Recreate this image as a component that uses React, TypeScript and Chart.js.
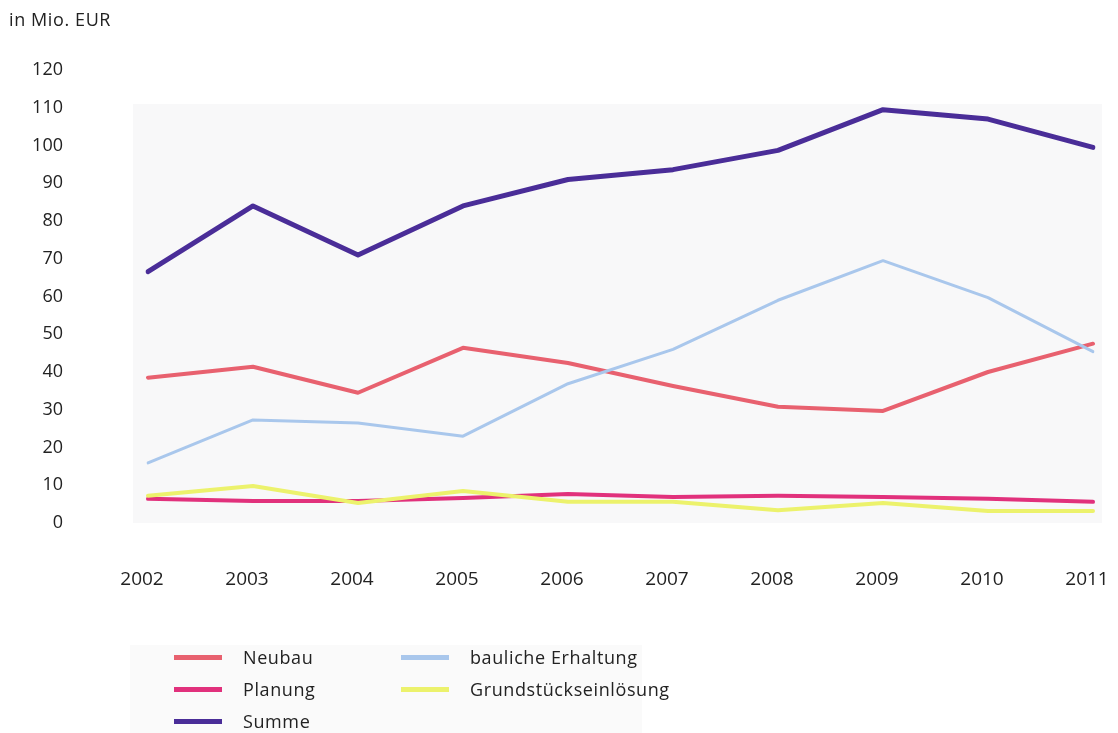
import React, { useEffect, useRef } from "react";
import { Chart, registerables } from "chart.js";

Chart.register(...registerables);

const years = ["2002", "2003", "2004", "2005", "2006", "2007", "2008", "2009", "2010", "2011"];
const neubau = [38.5, 41.4, 34.5, 46.4, 42.4, 36.3, 30.8, 29.7, 40, 47.5];
const planung = [6.4, 5.8, 5.8, 6.6, 7.7, 6.9, 7.2, 6.9, 6.4, 5.6];
const summe = [66.6, 84, 71, 84, 91, 93.6, 98.7, 109.5, 107, 99.5];
const erhaltung = [15.9, 27.3, 26.5, 23, 36.9, 46, 59, 69.5, 59.7, 45.4];
const grund = [7.2, 9.8, 5.3, 8.5, 5.6, 5.6, 3.4, 5.3, 3.2, 3.2];
const yTicks = [0, 10, 20, 30, 40, 50, 60, 70, 80, 90, 100, 110, 120];

const FONT = "'Open Sans', 'Noto Sans', sans-serif";

const series = [
  { label: "Grundstückseinlösung", data: grund, color: "#ecf26c", width: 4 },
  { label: "Planung", data: planung, color: "#e1317c", width: 4 },
  { label: "bauliche Erhaltung", data: erhaltung, color: "#a9c7ec", width: 3 },
  { label: "Neubau", data: neubau, color: "#e8616f", width: 4 },
  { label: "Summe", data: summe, color: "#4a2d98", width: 5 },
];

const legendCol1 = ["Neubau", "Planung", "Summe"];
const legendCol2 = ["bauliche Erhaltung", "Grundstückseinlösung"];

const bgPlugin = {
  id: "plotBg",
  beforeDraw(chart: any) {
    const { ctx, scales } = chart;
    const x = scales.x;
    const y = scales.y;
    const left = x.getPixelForValue(0) - 15;
    const right = x.getPixelForValue(9) + 9;
    const top = y.getPixelForValue(111);
    const bottom = y.getPixelForValue(0);
    ctx.save();
    ctx.fillStyle = "#f8f8f9";
    ctx.fillRect(left, top, right - left, bottom - top);
    ctx.restore();
  },
};

export default function App() {
  const ref = useRef<HTMLCanvasElement>(null);
  useEffect(() => {
    if (!ref.current) return;
    const chart = new Chart(ref.current, {
      type: "line",
      data: {
        labels: years,
        datasets: series.map((s) => ({
          label: s.label,
          data: s.data,
          borderColor: s.color,
          backgroundColor: s.color,
          borderWidth: s.width,
          pointRadius: 0,
          tension: 0,
          borderJoinStyle: "round" as const,
          borderCapStyle: "round" as const,
        })),
      },
      options: {
        responsive: false,
        animation: false,
        layout: { padding: { left: 0, top: 70, right: 25, bottom: 140 } },
        plugins: { legend: { display: false }, tooltip: { enabled: false } },
        scales: {
          x: {
            offset: false,
            grid: { display: false, drawTicks: false },
            border: { display: false },
            ticks: { color: "#222", font: { family: FONT, size: 19 }, padding: 45, maxRotation: 0, labelOffset: -6 },
            afterFit(scale: any) {
              scale.height = 70;
              scale.paddingLeft = 0;
              scale.paddingRight = 0;
            },
          },
          y: {
            min: 0,
            max: 120,
            afterBuildTicks(scale: any) {
              scale.ticks = yTicks.map((v) => ({ value: v }));
            },
            grid: { display: false, drawTicks: false },
            border: { display: false },
            ticks: { color: "#222", font: { family: FONT, size: 18 }, padding: 85 },
            afterFit(scale: any) {
              scale.width = 148;
              scale.paddingTop = 0;
              scale.paddingBottom = 0;
            },
          },
        },
      },
      plugins: [bgPlugin],
    });
    return () => chart.destroy();
  }, []);

  const colorOf = (l: string) => series.find((s) => s.label === l)!.color;
  const item = (l: string, top: number, left: number) => (
    <div key={l} style={{ position: "absolute", left, top, height: 30, display: "flex", alignItems: "center" }}>
      <div style={{ width: 48, height: 5, background: colorOf(l), marginRight: 21 }} />
      <span style={{ fontFamily: FONT, fontSize: 18, letterSpacing: 0.6, color: "#222" }}>{l}</span>
    </div>
  );

  return (
    <div style={{ position: "fixed", left: 0, top: 0, width: 1118, height: 733, background: "#fff" }}>
      <div style={{ position: "absolute", left: 130, top: 645, width: 512, height: 88, background: "#fafafa" }} />
      <canvas ref={ref} width={1118} height={733} style={{ position: "absolute", left: 0, top: 0 }} />
      <div style={{ position: "absolute", left: 9, top: 7, fontFamily: FONT, fontSize: 18, letterSpacing: 0.6, color: "#222" }}>in Mio. EUR</div>
      {legendCol1.map((l, i) => item(l, 642 + i * 32, 174))}
      {legendCol2.map((l, i) => item(l, 642 + i * 32, 401))}
    </div>
  );
}
